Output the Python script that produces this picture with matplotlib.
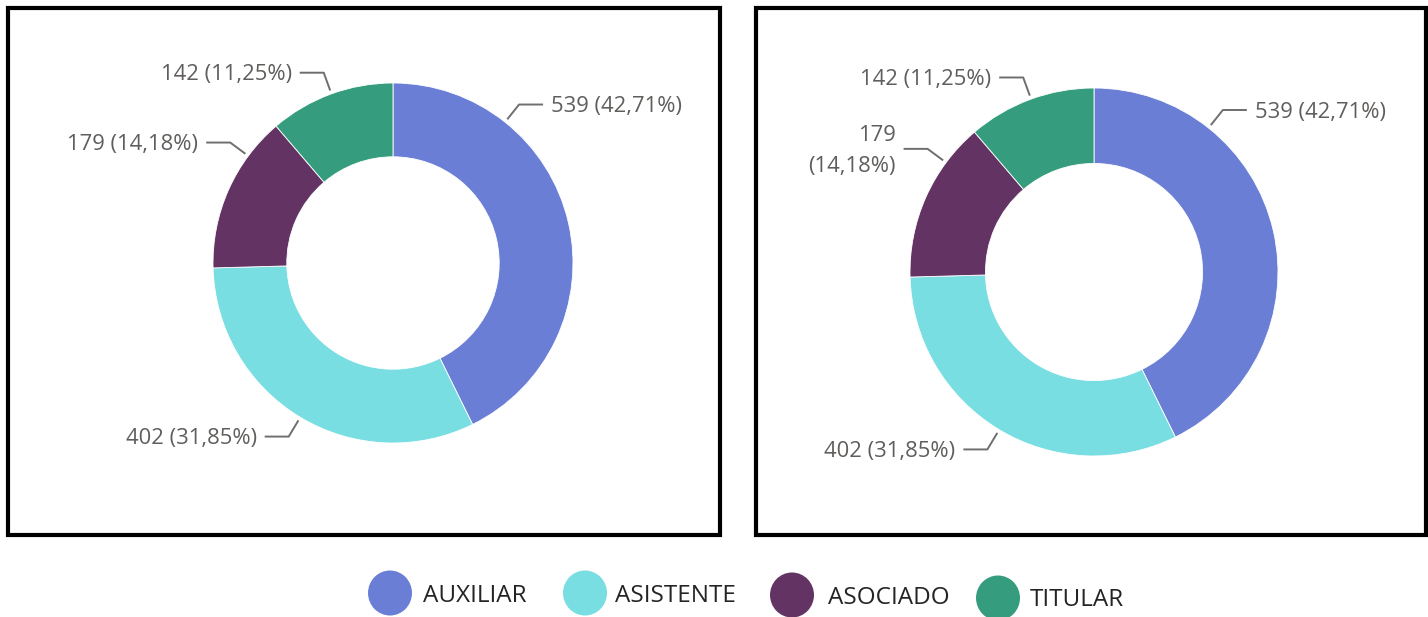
import numpy as np
import matplotlib
matplotlib.use("Agg")
import matplotlib.pyplot as plt
from matplotlib.patches import Rectangle, Ellipse

plt.rcParams['font.family'] = ['Open Sans', 'DejaVu Sans']

# ---- data ----
categories = ["AUXILIAR", "ASISTENTE", "ASOCIADO", "TITULAR"]
values_left = [539, 402, 179, 142]
values_right = [539, 402, 179, 142]
colors = ["#6B7ED6", "#79DEE2", "#633463", "#359D7D"]

# ---- layout (pixels, top-left origin) ----
W, H = 1428, 617
fig = plt.figure(figsize=(W / 100, H / 100), dpi=100)

ov = fig.add_axes([0, 0, 1, 1], zorder=5)
ov.set_xlim(0, W)
ov.set_ylim(H, 0)
ov.axis('off')
ov.patch.set_alpha(0)

label_color = "#605E5C"
line_color = "#6E6E6E"
label_angles = [51.5, 239.0, 143.5, 110.0]


def fmt(v, total):
    pct = v / total * 100
    return f"{v}", f"({pct:.2f}%)".replace(".", ",")


def donut(box, center, R, values, two_line_idx=None):
    x0, y0, x1, y1 = box
    ax = fig.add_axes([x0 / W, (H - y1) / H, (x1 - x0) / W, (y1 - y0) / H])
    ax.pie(values, colors=colors, startangle=90, counterclock=False,
           radius=1.0, wedgeprops=dict(width=0.41, edgecolor="white", linewidth=0.6))
    cx, cy = center
    ax.set_aspect('auto')
    ax.set_xlim(-(cx - x0) / R, (x1 - cx) / R)
    ax.set_ylim(-(y1 - cy) / R, (cy - y0) / R)
    ax.axis('off')
    total = sum(values)
    for i, v in enumerate(values):
        a = np.deg2rad(label_angles[i])
        p0 = (1.02 * np.cos(a), 1.02 * np.sin(a))
        p1 = (1.125 * np.cos(a), 1.125 * np.sin(a))
        side = 1 if np.cos(a) > 0 else -1
        p2 = (p1[0] + side * 24 / R, p1[1])
        ax.plot([p0[0], p1[0], p2[0]], [p0[1], p1[1], p2[1]],
                color=line_color, lw=1.4, clip_on=False, solid_capstyle='butt')
        n, pc = fmt(v, total)
        two = (i == two_line_idx)
        txt = f"{n}\n{pc}" if two else f"{n} {pc}"
        ax.text(p2[0] + side * 8 / R, p2[1] - 2 / R, txt, ha='left' if side > 0 else 'right',
                va='center', fontsize=15.8, color=label_color,
                multialignment='right' if side < 0 else 'left',
                linespacing=1.6 if two else 1.1)
    ov.add_patch(Rectangle((x0, y0), x1 - x0, y1 - y0, fill=False,
                           edgecolor="black", linewidth=3))


donut((8, 8, 720, 535), (393, 263), 180, values_left)
donut((756, 8, 1426, 535), (1094, 272), 184, values_right, two_line_idx=2)

# ---- legend ----
circ_x = [390, 585, 792, 998]
circ_y = [593, 593, 595, 598]
text_x = [423, 615, 828, 1030]
text_y = [596, 596, 598, 600]
for i, cat in enumerate(categories):
    ov.add_patch(Ellipse((circ_x[i], circ_y[i]), 44, 45, facecolor=colors[i], edgecolor='none'))
    ov.text(text_x[i], text_y[i], cat, ha='left', va='center',
            fontsize=17.5, color="#252423")

fig.savefig("out.png", dpi=100, facecolor="white")
